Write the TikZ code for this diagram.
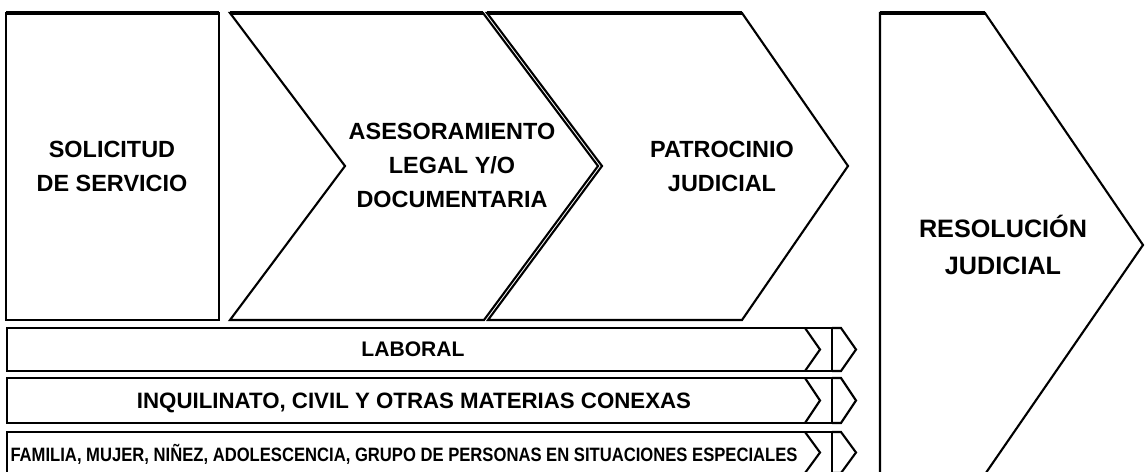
\documentclass[tikz,border=0pt]{standalone}
\usepackage{fontspec}
\setmainfont{Liberation Sans}
\usetikzlibrary{positioning}

\begin{document}
\begin{tikzpicture}[x=0.03cm, y=-0.03cm,
    borde/.style={line width=1.8pt, line join=miter},
    bordesup/.style={line width=3.2pt},
    titulo/.style={font=\fontsize{20}{29}\selectfont\bfseries, align=center, inner sep=0pt},
    barra/.style={font=\fontsize{18}{20}\selectfont\bfseries, inner sep=0pt, text depth=0pt}]

    \useasboundingbox (0,0) rectangle (1145,471);

    % Etapas superiores (caja + flechas)
    \draw[borde] (6,13) rectangle (219,320);
    \draw[bordesup] (6,13) -- (219,13);
    \node[titulo] (sol) at (112,166) {SOLICITUD\\DE SERVICIO};

    \draw[borde] (230,13) -- (483,13) -- (598,166) -- (484,320) -- (230,320) -- (345,166) -- cycle;
    \draw[bordesup] (230,13) -- (483,13);
    \node[titulo] (ases) at (452,165) {ASESORAMIENTO\\LEGAL Y/O\\DOCUMENTARIA};

    \draw[borde] (487,13) -- (742,13) -- (848,166) -- (742,320) -- (488,320) -- (602,166) -- cycle;
    \draw[bordesup] (487,13) -- (742,13);
    \node[titulo] (patr) at (722,166) {PATROCINIO\\JUDICIAL};

    % Etapa final (cortada abajo)
    \draw[borde] (880,480) -- (880,13) -- (985,13) -- (1143,245) -- (981,480) -- cycle;
    \draw[bordesup] (880,13) -- (985,13);
    \node[titulo, font=\fontsize{21.5}{31.5}\selectfont\bfseries] (reso) at (1003,245) {RESOLUCIÓN\\JUDICIAL};

    % Barras de materias
    \foreach \ya/\yb in {328/371, 378/423, 432/473} {
        \draw[borde] (7,\ya) rectangle (832,\yb);
        \draw[borde] (805,\ya) -- (820,{(\ya+\yb)/2}) -- (805,\yb);
        \draw[borde] (832,\ya) -- (841,\ya) -- (856,{(\ya+\yb)/2}) -- (841,\yb) -- (832,\yb);
    }
    \node[barra] (lab) at (413,349.5) {LABORAL};
    \node[barra, font=\fontsize{19}{21}\selectfont\bfseries] (inq) at (414,400.5) {INQUILINATO, CIVIL Y OTRAS MATERIAS CONEXAS};
    \node[barra, font=\fontsize{16.5}{18}\selectfont\bfseries] (fam) at (404,452.5) {\scalebox{0.86}[1]{FAMILIA, MUJER, NIÑEZ, ADOLESCENCIA, GRUPO DE PERSONAS EN SITUACIONES ESPECIALES}};
\end{tikzpicture}
\end{document}
